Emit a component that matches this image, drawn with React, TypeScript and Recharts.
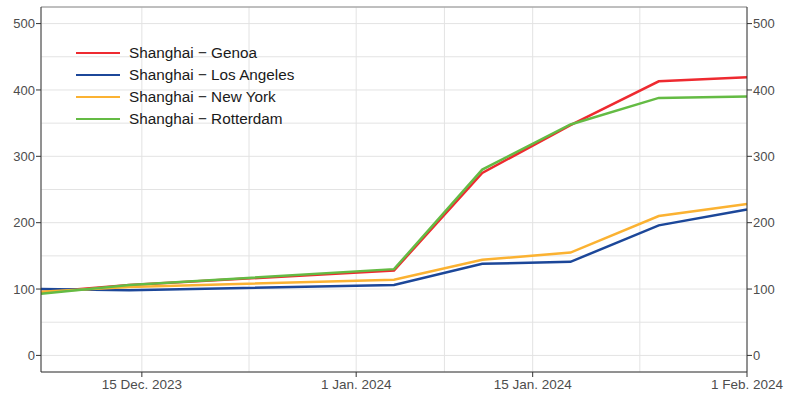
import { LineChart, Line, XAxis, YAxis, CartesianGrid, ReferenceLine } from "recharts";

const dates = ["2023-12-07", "2023-12-14", "2024-01-04", "2024-01-11", "2024-01-18", "2024-01-25", "2024-02-01"];

const genoa = [95, 106, 128, 275, 347, 413, 419];
const losAngeles = [100, 98, 106, 138, 141, 196, 220];
const newYork = [96, 103, 114, 144, 155, 210, 228];
const rotterdam = [93, 106, 130, 280, 348, 388, 390];

const xTickDates = ["2023-12-15", "2024-01-01", "2024-01-15", "2024-02-01"];
const xMinorDates = ["2023-12-23T12:00", "2024-01-08", "2024-01-23T12:00"];
const yTicks = [0, 100, 200, 300, 400, 500];
const yMinorTicks = [50, 150, 250, 350, 450];
const months = ["Jan.", "Feb.", "Mar.", "Apr.", "May", "Jun.", "Jul.", "Aug.", "Sep.", "Oct.", "Nov.", "Dec."];

const series = [
  { key: "genoa", name: "Shanghai \u2212 Genoa", color: "#ee2a30", values: genoa },
  { key: "losAngeles", name: "Shanghai \u2212 Los Angeles", color: "#1c4799", values: losAngeles },
  { key: "newYork", name: "Shanghai \u2212 New York", color: "#fbb232", values: newYork },
  { key: "rotterdam", name: "Shanghai \u2212 Rotterdam", color: "#64bb44", values: rotterdam },
];

const toTime = (s: string) => new Date(s.length > 10 ? s + ":00Z" : s + "T00:00:00Z").getTime();

const data = dates.map((d, i) => {
  const row: Record<string, number> = { t: toTime(d) };
  series.forEach((s) => (row[s.key] = s.values[i]));
  return row;
});

const formatDate = (t: number) => {
  const d = new Date(t);
  return `${d.getUTCDate()} ${months[d.getUTCMonth()]} ${d.getUTCFullYear()}`;
};

const gridColor = "#e3e3e3";
const axisColor = "#333333";
const yTickText = { fill: "#4d4d4d", fontSize: 13 };
const xTickText = { fill: "#4d4d4d", fontSize: 13.5 };

// legend drawn as an overlay so it does not shrink the plot area
function LegendBox() {
  return (
    <div style={{ position: "absolute", left: 76, top: 42 }}>
      {series.map((s) => (
        <div key={s.key} style={{ display: "flex", alignItems: "center", height: 22 }}>
          <span style={{ width: 44, height: 2.5, background: s.color, display: "inline-block" }} />
          <span style={{ marginLeft: 9, fontSize: 15.3, color: "#1a1a1a" }}>{s.name}</span>
        </div>
      ))}
    </div>
  );
}

export default function App() {
  return (
    <div style={{ position: "absolute", left: 0, top: 0, width: 787, height: 405, fontFamily: "'Liberation Sans', Arial, sans-serif" }}>
      <LineChart width={787} height={405} data={data} margin={{ top: 7, right: 0, bottom: 3, left: 0 }}>
        <CartesianGrid stroke={gridColor} strokeWidth={1} yAxisId="left" />
        {xMinorDates.map((d) => (
          <ReferenceLine key={d} x={toTime(d)} yAxisId="left" stroke={gridColor} strokeWidth={1} />
        ))}
        {yMinorTicks.map((v) => (
          <ReferenceLine key={v} y={v} yAxisId="left" stroke={gridColor} strokeWidth={1} />
        ))}
        <ReferenceLine y={525} yAxisId="left" stroke="#8c8c8c" strokeWidth={1} />
        <XAxis
          dataKey="t"
          type="number"
          scale="time"
          domain={[toTime(dates[0]), toTime(dates[dates.length - 1])]}
          ticks={xTickDates.map(toTime)}
          tickFormatter={formatDate}
          height={30}
          tickSize={5}
          tickMargin={2}
          stroke={axisColor}
          tick={xTickText}
          interval={0}
        />
        <YAxis
          yAxisId="left"
          domain={[-25, 525]}
          ticks={yTicks}
          width={41}
          tickSize={5}
          tickMargin={1}
          stroke={axisColor}
          tick={yTickText}
          allowDataOverflow
        />
        <YAxis
          yAxisId="right"
          orientation="right"
          domain={[-25, 525]}
          ticks={yTicks}
          width={40}
          tickSize={5}
          tickMargin={1}
          stroke={axisColor}
          tick={yTickText}
          allowDataOverflow
        />
        {series.map((s) => (
          <Line
            key={s.key}
            yAxisId="left"
            dataKey={s.key}
            name={s.name}
            stroke={s.color}
            strokeWidth={2.5}
            dot={false}
            type="linear"
            isAnimationActive={false}
          />
        ))}
      </LineChart>
      <LegendBox />
    </div>
  );
}
